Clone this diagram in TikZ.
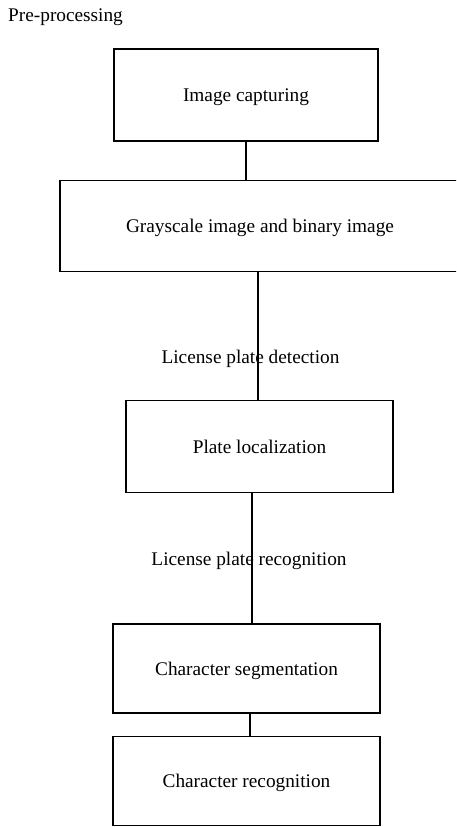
\documentclass[tikz,border=0pt]{standalone}
\usepackage{fontspec}
\setmainfont{Liberation Serif}
\begin{document}
\begin{tikzpicture}[x=1pt,y=1pt,
  stage/.style={draw, line width=1.8pt, minimum width=#1, inner sep=0pt,
    text depth=0pt, font=\fontsize{19.3}{22}\selectfont},
  note/.style={font=\fontsize{19.3}{22}\selectfont, inner sep=0pt},
  link/.style={line width=1.8pt}]
\useasboundingbox (0,0) rectangle (456,-827);
\clip (0,0) rectangle (456,-827);
\fill[white] (0,0) rectangle (456,-827);

\node[note, anchor=base west] (pre) at (8,-21) {Pre-processing};

\node[stage=264pt, minimum height=92pt] (capture) at (246,-95) {Image capturing};
\node[stage=400pt, minimum height=91pt] (gray) at (260,-226) {Grayscale image and binary image};
\node[stage=267pt, minimum height=92pt] (local) at (259.5,-446.5) {Plate localization};
\node[stage=267pt, minimum height=89pt] (segment) at (246.5,-668.5) {Character segmentation};
\node[stage=267pt, minimum height=89pt] (recog) at (246.5,-781) {Character recognition};

\coordinate (c2) at ([xshift=-1.5pt]local.north);
\coordinate (c3) at ([xshift=5.5pt]segment.north);
\coordinate (c4) at ([xshift=3.5pt]recog.north);

\draw[link] (capture.south) -- (capture.south |- gray.north);
\draw[link] (c2 |- gray.south) -- (c2);
\draw[link] (c3 |- local.south) -- (c3);
\draw[link] (c4 |- segment.south) -- (c4);

\node[note, anchor=base] (detect) at (250.5,-363) {License plate detection};
\node[note, anchor=base] (recogn) at (249,-565) {License plate recognition};
\end{tikzpicture}
\end{document}
